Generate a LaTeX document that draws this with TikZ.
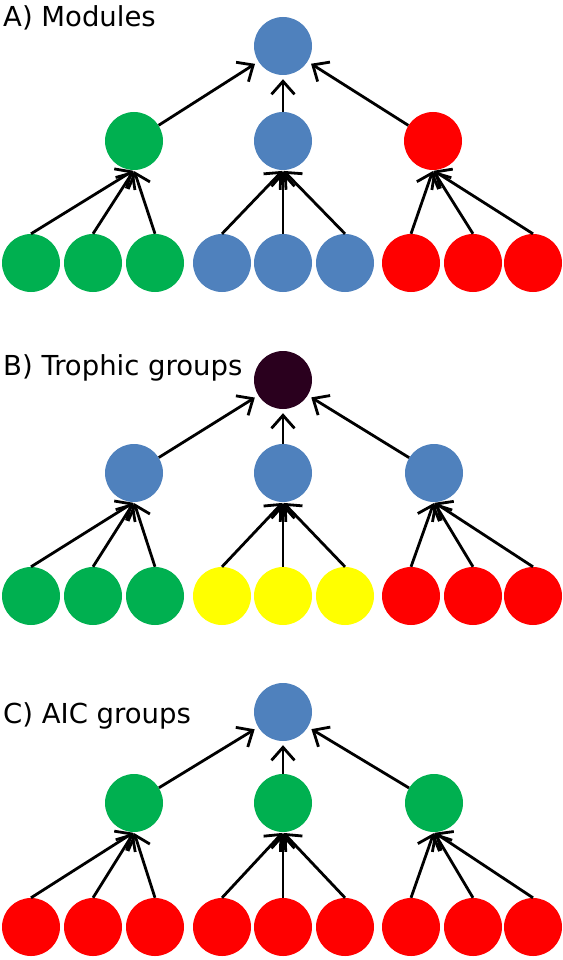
\documentclass[tikz,border=0pt]{standalone}
\usepackage{fontspec}
\setmainfont{DejaVu Sans}
\usetikzlibrary{arrows.meta}

\definecolor{modblue}{RGB}{79,129,189}
\definecolor{modgreen}{RGB}{0,176,80}
\definecolor{modred}{RGB}{255,0,0}
\definecolor{modyellow}{RGB}{255,255,0}
\definecolor{topdark}{RGB}{42,0,30}

\begin{document}
\begin{tikzpicture}[x=1pt,y=-1pt]

	\tikzstyle species=[circle, minimum size=58pt, inner sep=0pt];
	\tikzstyle link=[line width=2.8pt, -{Straight Barb[length=13pt,width=23pt,line width=2.8pt]}];
	\tikzstyle upper link=[link, shorten >=4pt];
	\tikzstyle lower link=[link, shorten >=1pt];
	\tikzstyle panel label=[anchor=base west, inner sep=0pt, font=\fontsize{27.5}{32}\selectfont];

	\useasboundingbox (0,0) rectangle (562,960);

	% A) modules
	\node[panel label] (labA) at (3,27) {A) Modules};
	\node[species, fill=modblue] (A) at (283,46) {};
		\foreach \x/\n/\c in {134/1/modgreen,283/2/modblue,433/3/modred}
			\node[species, fill=\c] (A\n) at (\x,141) {};
		\foreach \x/\n/\c in {31/1/modgreen,93/2/modgreen,155/3/modgreen,222/4/modblue,283/5/modblue,345/6/modblue,411/7/modred,473/8/modred,533/9/modred}
			\node[species, fill=\c] (Ab\n) at (\x,263) {};
		\foreach \n in {1,2,3}
			\draw[upper link] (A\n) -- (A);
		\foreach \n/\p in {1/1,2/1,3/1,4/2,5/2,6/2,7/3,8/3,9/3}
			\draw[lower link] (Ab\n.north) -- (A\p.south);

	% B) trophic groups
	\node[panel label] (labB) at (3,375) {B) Trophic groups};
	\node[species, fill=topdark] (B) at (283,380) {};
		\foreach \x/\n in {134/1,283/2,434/3}
			\node[species, fill=modblue] (B\n) at (\x,473) {};
		\foreach \x/\n/\c in {31/1/modgreen,93/2/modgreen,155/3/modgreen,222/4/modyellow,283/5/modyellow,345/6/modyellow,411/7/modred,473/8/modred,533/9/modred}
			\node[species, fill=\c] (Bb\n) at (\x,596) {};
		\foreach \n in {1,2,3}
			\draw[upper link] (B\n) -- (B);
		\foreach \n/\p in {1/1,2/1,3/1,4/2,5/2,6/2,7/3,8/3,9/3}
			\draw[lower link] (Bb\n.north) -- (B\p.south);

	% C) AIC groups
	\node[panel label] (labC) at (3,723) {C) AIC groups};
	\node[species, fill=modblue] (C) at (283,712) {};
		\foreach \x/\n in {134/1,283/2,434/3}
			\node[species, fill=modgreen] (C\n) at (\x,803) {};
		\foreach \x/\n in {31/1,93/2,155/3,222/4,283/5,345/6,411/7,473/8,533/9}
			\node[species, fill=modred] (Cb\n) at (\x,927) {};
		\foreach \n in {1,2,3}
			\draw[upper link] (C\n) -- (C);
		\foreach \n/\p in {1/1,2/1,3/1,4/2,5/2,6/2,7/3,8/3,9/3}
			\draw[lower link] (Cb\n.north) -- (C\p.south);

\end{tikzpicture}
\end{document}
